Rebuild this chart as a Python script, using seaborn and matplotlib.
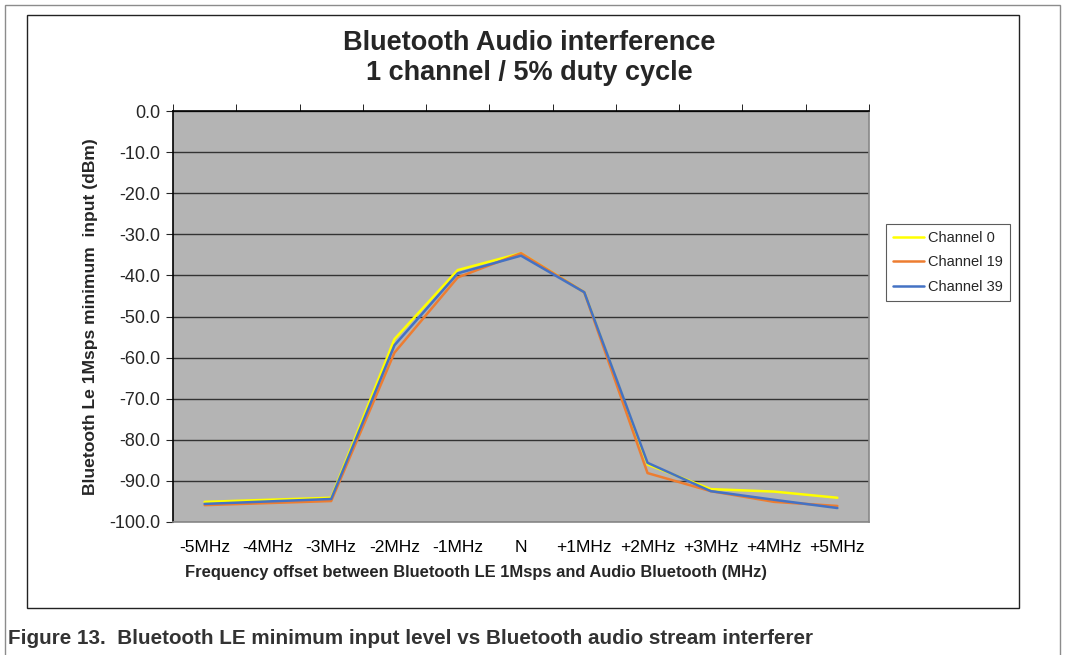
import numpy as np
import pandas as pd
import seaborn as sns
import matplotlib.pyplot as plt
from matplotlib.patches import Rectangle

# データ
offsets = ['-5MHz', '-4MHz', '-3MHz', '-2MHz', '-1MHz', 'N',
           '+1MHz', '+2MHz', '+3MHz', '+4MHz', '+5MHz']
ch0 = [-95.1, -94.6, -94.1, -55.5, -38.7, -34.6, -44.1, -86.0, -92.0, -92.6, -94.1]
ch19 = [-95.9, -95.4, -94.9, -58.8, -40.5, -34.6, -44.1, -88.1, -92.5, -95.1, -96.1]
ch39 = [-95.6, -95.0, -94.4, -57.0, -39.5, -35.2, -44.1, -85.6, -92.5, -94.6, -96.6]
series_names = ['Channel 0', 'Channel 19', 'Channel 39']
colors = ['#ffff00', '#ed7d31', '#4472c4']
y_ticks = [0, -10, -20, -30, -40, -50, -60, -70, -80, -90, -100]

rows = []
for name, vals in zip(series_names, [ch0, ch19, ch39]):
    for i, v in enumerate(vals):
        rows.append({'pos': i, 'offset': offsets[i], 'value': v, 'series': name})
df = pd.DataFrame(rows)

sns.set_style('white')
plt.rcParams['font.family'] = ['Liberation Sans', 'DejaVu Sans']

fig = plt.figure(figsize=(10.66, 6.55), dpi=100)
W, H = 1066, 655
ax = fig.add_axes([173 / W, 1 - 522 / H, (869 - 173) / W, (522 - 111) / H])

# 外枠
fig.patches.append(Rectangle((5 / W, -0.05), 1055 / W, 1 - 5 / H + 0.05,
                             transform=fig.transFigure, fill=False,
                             edgecolor='#8c8c8c', lw=1))
fig.patches.append(Rectangle((27 / W, 1 - 608 / H), (1019 - 27) / W, (608 - 15) / H,
                             transform=fig.transFigure, fill=False,
                             edgecolor='#222222', lw=1))

ax.set_facecolor('#b4b4b4')
sns.lineplot(data=df, x='pos', y='value', hue='series', palette=colors,
             hue_order=series_names, linewidth=1.8, ax=ax, legend=True,
             zorder=3)

ax.set_xlim(-0.5, len(offsets) - 0.5)
ax.set_ylim(-100, 0)
ax.set_yticks(y_ticks)
ax.set_yticklabels([f'{t:.1f}' for t in y_ticks], fontsize=13)
ax.set_xticks(range(len(offsets)))
ax.set_xticklabels(offsets, fontsize=12.5)
ax.set_xticks(np.arange(-0.5, len(offsets), 1), minor=True)
ax.tick_params(axis='x', which='major', length=0, pad=13, colors='black')
ax.tick_params(axis='x', which='minor', top=True, bottom=False, length=5,
               direction='out', color='black')
ax.tick_params(axis='y', length=5, direction='out', left=True, pad=4)
ax.grid(axis='y', color='#333333', lw=1, zorder=1)
ax.grid(axis='x', visible=False)
ax.set_axisbelow(True)

for side in ['left', 'top']:
    ax.spines[side].set_color('black')
    ax.spines[side].set_linewidth(1.2)
for side in ['right', 'bottom']:
    ax.spines[side].set_color('#888888')
    ax.spines[side].set_linewidth(1.2)

ax.set_xlabel('')
ax.set_ylabel('Bluetooth Le 1Msps minimum  input (dBm)', fontsize=12.6,
              fontweight='bold', labelpad=8)

fig.text(476 / W, 1 - 573 / H, 'Frequency offset between Bluetooth LE 1Msps and Audio Bluetooth (MHz)',
         ha='center', va='center', fontsize=11.9, fontweight='bold')
fig.text(529 / W, 1 - 58 / H, 'Bluetooth Audio interference\n1 channel / 5% duty cycle',
         ha='center', va='center', fontsize=19.5, fontweight='bold', linespacing=1.2)
fig.text(8 / W, 1 - 638 / H, 'Figure 13.  Bluetooth LE minimum input level vs Bluetooth audio stream interferer',
         ha='left', va='center', fontsize=14.9, fontweight='bold', color='#333333')

leg = ax.legend(loc='upper left', bbox_to_anchor=(886 / W, 1 - 224 / H),
                bbox_transform=fig.transFigure, frameon=True, fancybox=False,
                edgecolor='#333333', fontsize=10.5, handlelength=2.1,
                handletextpad=0.3, borderpad=0.5, labelspacing=0.7,
                borderaxespad=0)
leg.get_frame().set_linewidth(0.8)

plt.savefig('out.png', dpi=100)
plt.close()
